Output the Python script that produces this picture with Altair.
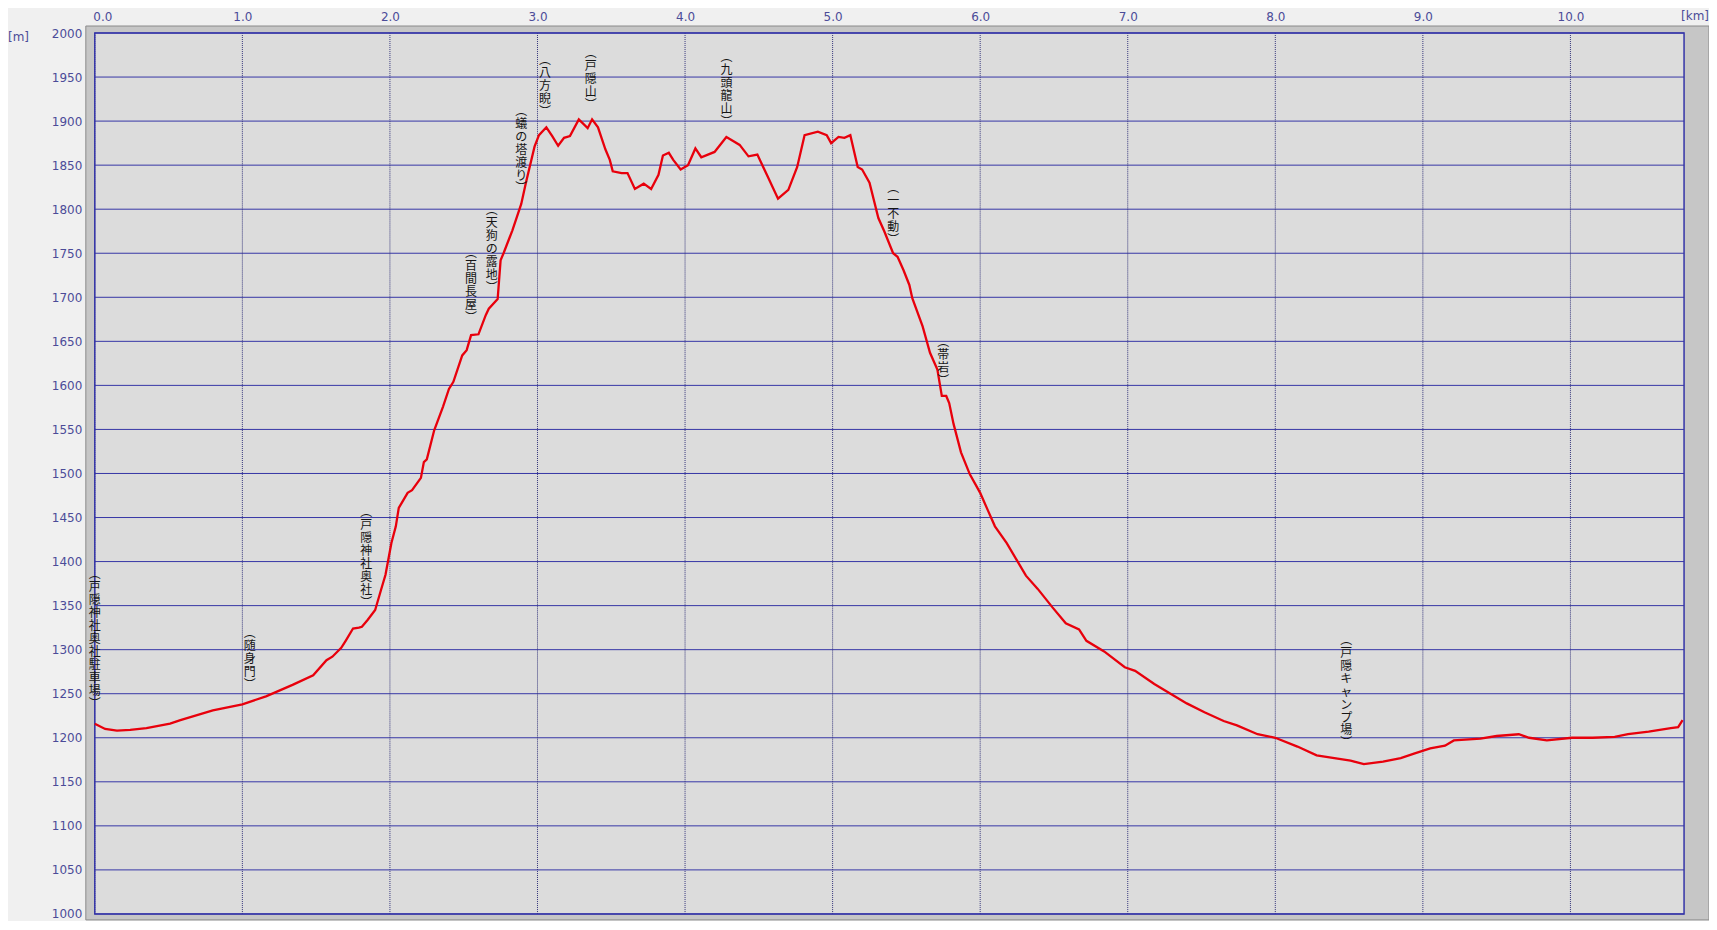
import altair as alt
import pandas as pd

# ---------------- data ----------------
km = [0.00, 0.07, 0.15, 0.24, 0.35, 0.51, 0.58, 0.80, 1.00, 1.16, 1.34, 1.48, 1.57, 1.61,
      1.67, 1.70, 1.75, 1.79, 1.81, 1.85, 1.90, 1.94, 1.97, 2.01, 2.04, 2.06, 2.12, 2.15,
      2.21, 2.23, 2.25, 2.30, 2.36, 2.40, 2.43, 2.49, 2.52, 2.55, 2.60, 2.65, 2.67, 2.73,
      2.75, 2.77, 2.83, 2.89, 2.92, 2.98, 3.01, 3.06, 3.10, 3.14, 3.18, 3.22, 3.28, 3.34,
      3.37, 3.41, 3.46, 3.49, 3.51, 3.57, 3.61, 3.66, 3.72, 3.77, 3.82, 3.85, 3.89, 3.92,
      3.97, 4.02, 4.07, 4.11, 4.20, 4.28, 4.32, 4.37, 4.43, 4.49, 4.56, 4.63, 4.70, 4.76,
      4.81, 4.90, 4.96, 4.99, 5.04, 5.08, 5.12, 5.17, 5.20, 5.25, 5.31, 5.35, 5.41, 5.44,
      5.48, 5.52, 5.54, 5.61, 5.66, 5.71, 5.74, 5.77, 5.79, 5.82, 5.87, 5.93, 6.00, 6.05,
      6.10, 6.18, 6.25, 6.31, 6.39, 6.49, 6.58, 6.67, 6.72, 6.84, 6.98, 7.05, 7.18, 7.29,
      7.40, 7.52, 7.65, 7.74, 7.88, 8.00, 8.15, 8.28, 8.40, 8.51, 8.60, 8.73, 8.85, 8.94,
      9.05, 9.15, 9.21, 9.39, 9.50, 9.65, 9.72, 9.84, 10.01, 10.15, 10.30, 10.39, 10.53,
      10.68, 10.73, 10.76]
elev = [1216, 1210, 1208, 1209, 1211, 1216, 1220, 1231, 1238, 1247, 1260, 1271, 1288, 1292,
        1302, 1310, 1324, 1325, 1326, 1334, 1345, 1368, 1385, 1421, 1440, 1461, 1478, 1481,
        1495, 1513, 1516, 1549, 1576, 1596, 1604, 1634, 1640, 1657, 1658, 1680, 1687, 1698,
        1742, 1750, 1776, 1806, 1829, 1871, 1884, 1893, 1883, 1872, 1881, 1883, 1902, 1892,
        1902, 1893, 1868, 1856, 1843, 1841, 1841, 1823, 1829, 1823, 1839, 1861, 1864, 1856,
        1845, 1850, 1869, 1859, 1865, 1882, 1878, 1873, 1860, 1862, 1837, 1812, 1822, 1848,
        1884, 1888, 1884, 1875, 1882, 1881, 1884, 1848, 1845, 1830, 1790, 1775, 1750, 1746,
        1731, 1714, 1699, 1667, 1637, 1618, 1588, 1588, 1580, 1556, 1524, 1499, 1478, 1459,
        1440, 1421, 1401, 1384, 1369, 1348, 1330, 1323, 1310, 1298, 1280, 1276, 1261, 1250,
        1239, 1229, 1219, 1214, 1204, 1200, 1190, 1180, 1177, 1174, 1170, 1173, 1177, 1182,
        1188, 1191, 1197, 1199, 1202, 1204, 1200, 1197, 1200, 1200, 1201, 1204, 1207,
        1211, 1212, 1220]

wp_names = ["戸隠神社奥社駐車場", "随身門", "戸隠神社奥社", "百間長屋", "天狗の露地",
            "蟻の塔渡り", "八方睨", "戸隠山", "九頭龍山", "一不動", "帯岩", "戸隠キャンプ場"]
wp_km = [0.00, 1.05, 1.84, 2.55, 2.69, 2.89, 3.05, 3.36, 4.28, 5.41, 5.75, 8.48]
wp_elev = [1217, 1238, 1332, 1655, 1689, 1802, 1889, 1897, 1878, 1744, 1583, 1172]

x_ticks = [0, 1, 2, 3, 4, 5, 6, 7, 8, 9, 10]
y_ticks = [1000, 1050, 1100, 1150, 1200, 1250, 1300, 1350, 1400, 1450, 1500,
           1550, 1600, 1650, 1700, 1750, 1800, 1850, 1900, 1950, 2000]

# ---------------- layout ----------------
W, H = 1593, 883
LABEL_COLOR = "#4b4b98"
GRID_COLOR = "#3636a6"
LH = 13.0   # line height of the vertical waypoint labels
GAP = 12    # gap between waypoint and bottom of its label

xs = alt.Scale(domain=[0, 10.77], nice=False, zero=False)
ys = alt.Scale(domain=[1000, 2000], nice=False, zero=False)

x_axis = alt.Axis(orient="top", values=x_ticks, format=".1f", title=None,
                  ticks=False, domain=False, grid=False, labelPadding=10,
                  labelColor=LABEL_COLOR, labelFont="DejaVu Sans", labelFontSize=12,
                  labelFlush=True, labelFlushOffset=2, labelOverlap=False)
y_axis = alt.Axis(values=y_ticks, format="d", title=None, ticks=False, domain=False,
                  grid=False, labelPadding=13, labelColor=LABEL_COLOR,
                  labelFont="DejaVu Sans", labelFontSize=12, labelOverlap=False,
                  labelFlush=False)

profile = pd.DataFrame({"km": km, "elev": elev})
wp = pd.DataFrame({
    "km": wp_km,
    "elev": wp_elev,
    "label": ["︵\n" + "\n".join(list(n)) + "\n︶" for n in wp_names],
})
# shift multi-line labels up so the last line ends just above the waypoint
wp["off"] = [-(len(n) + 1) * LH - GAP for n in wp_names]
one = pd.DataFrame({"d": [0]})

frame = alt.Chart(one).mark_rect(fill="#c6c6c6", stroke="#8a8a8a", strokeWidth=1).encode(
    x=alt.value(-9), x2=alt.value(W + 25), y=alt.value(-7), y2=alt.value(H + 6)
)
inner = alt.Chart(one).mark_rect(fill="#dcdcdc").encode(
    x=alt.value(0), x2=alt.value(W), y=alt.value(0), y2=alt.value(H)
)
hgrid = alt.Chart(pd.DataFrame({"v": y_ticks})).mark_rule(color=GRID_COLOR, strokeWidth=1).encode(
    y=alt.Y("v:Q", scale=ys, axis=y_axis), x=alt.value(0), x2=alt.value(W)
)
vgrid = alt.Chart(pd.DataFrame({"v": x_ticks})).mark_rule(
    color="#34347a", strokeWidth=1, strokeDash=[1, 1]
).encode(
    x=alt.X("v:Q", scale=xs, axis=x_axis), y=alt.value(0), y2=alt.value(H)
)
border = alt.Chart(one).mark_rect(fillOpacity=0, stroke="#3434a8", strokeWidth=1.5).encode(
    x=alt.value(0), x2=alt.value(W), y=alt.value(0), y2=alt.value(H)
)

line = alt.Chart(profile).mark_line(color="#e8000c", strokeWidth=2.3).encode(
    x=alt.X("km:Q", scale=xs, axis=x_axis),
    y=alt.Y("elev:Q", scale=ys, axis=y_axis),
)

labels = alt.Chart(wp).mark_text(
    lineBreak="\n", font="Noto Sans CJK JP", fontSize=12, lineHeight=LH,
    baseline="bottom", align="center", dy=alt.expr("datum.off"), color="#151515"
).encode(
    x=alt.X("km:Q", scale=xs, axis=x_axis),
    y=alt.Y("elev:Q", scale=ys, axis=y_axis),
    text="label:N",
)

km_text = alt.Chart(one).mark_text(
    text="[km]", align="right", baseline="middle", font="DejaVu Sans", fontSize=12,
    color=LABEL_COLOR
).encode(x=alt.value(W + 25), y=alt.value(-17))

m_text = alt.Chart(one).mark_text(
    text="[m]", align="left", baseline="middle", font="DejaVu Sans", fontSize=12,
    color=LABEL_COLOR
).encode(x=alt.value(-87), y=alt.value(4))

chart = alt.layer(frame, inner, hgrid, vgrid, border, line, labels, km_text, m_text).properties(
    width=W, height=H,
    padding={"left": 87, "top": 24, "right": 25, "bottom": 6},
    autosize=alt.AutoSizeParams(type="none"),
    background="#f0f0f0",
).configure_view(stroke=None)

chart.save("out.html", embed_options={"renderer": "svg", "actions": False})
